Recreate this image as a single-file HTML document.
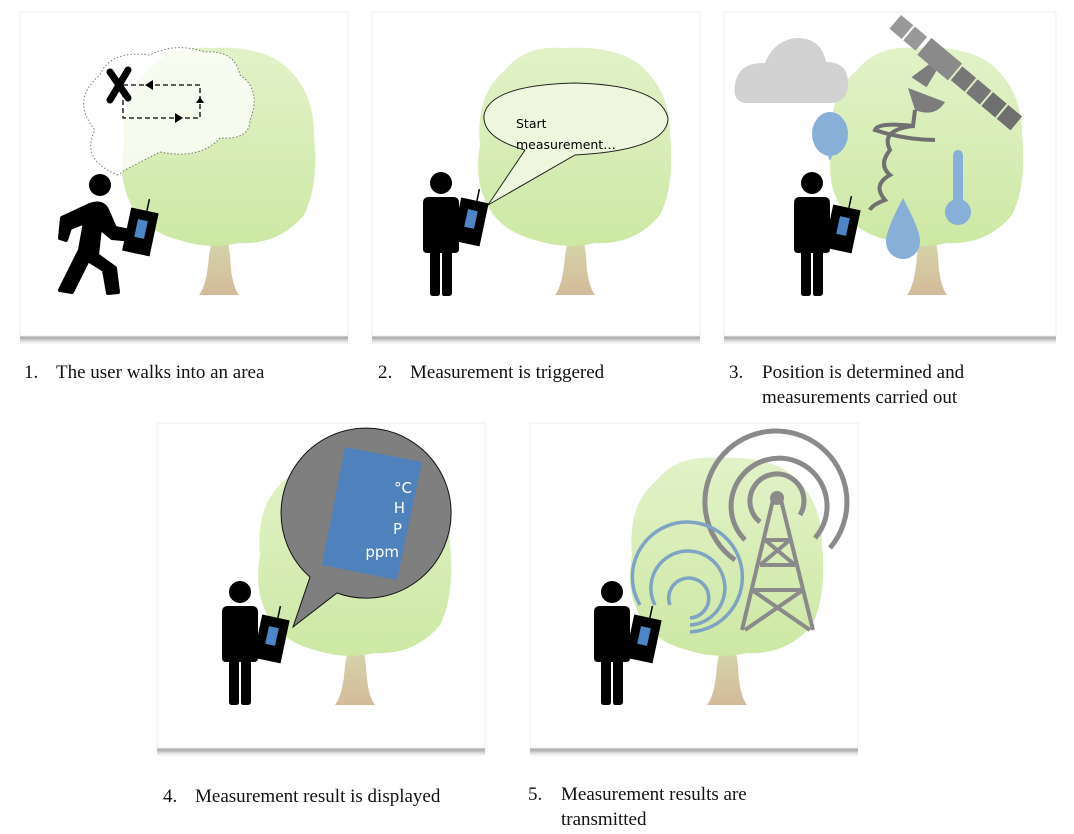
<!DOCTYPE html>
<html><head><meta charset="utf-8"><style>
html,body{margin:0;padding:0;background:#fff}
svg{display:block}
.cap{font-family:"Liberation Serif",serif;font-size:19px;fill:#111}
.sans{font-family:"DejaVu Sans",sans-serif}
</style></head><body>
<svg width="1074" height="834" viewBox="0 0 1074 834" xmlns="http://www.w3.org/2000/svg">
<defs>
<linearGradient id="sh" x1="0" y1="0" x2="0" y2="1"><stop offset="0" stop-color="#8a8a8a"/><stop offset="0.5" stop-color="#bbb"/><stop offset="1" stop-color="#fff" stop-opacity="0"/></linearGradient>
<linearGradient id="trk" x1="0" y1="0" x2="0" y2="1"><stop offset="0" stop-color="#d6dcb0"/><stop offset="1" stop-color="#d3bb9a"/></linearGradient>
<linearGradient id="can" x1="0" y1="0" x2="0" y2="1"><stop offset="0" stop-color="#e2f2c8"/><stop offset="1" stop-color="#cde8a4"/></linearGradient>
<g id="tree">
 <path d="M-4,-72 L-10,-40 Q-12,-10 -20,0 L20,0 Q12,-10 11,-40 L6,-72 Z" fill="url(#trk)"/>
 <path d="M-4,-62 L-32,-82 M4,-60 L28,-85" stroke="#d5d9ae" stroke-width="7"/>
 <g fill="url(#can)">
  <path d="M-95,-150 Q-100,-200 -70,-225 Q-50,-250 -10,-247 Q40,-250 65,-230 Q95,-205 95,-160 Q100,-110 85,-80 Q60,-50 20,-52 Q-10,-45 -40,-55 Q-80,-65 -92,-100 Q-100,-120 -95,-150 Z"/>
 </g>
</g>
<g id="man">
 <circle cx="0" cy="0" r="11"/>
 <path d="M-18,20 Q-18,14 -12,14 L12,14 Q18,14 18,20 L18,66 Q18,70 14,70 L11,70 L11,110 Q11,113 7,113 L3,113 Q1,113 1,110 L1,70 L-1,70 L-1,110 Q-1,113 -4,113 L-8,113 Q-11,113 -11,110 L-11,70 L-14,70 Q-18,70 -18,66 Z"/>
</g>
<g id="dev">
 <line x1="4" y1="0" x2="4" y2="-12" stroke="#000" stroke-width="1.5"/>
 <rect x="-12" y="0" width="28" height="44" fill="#000"/>
 <rect x="-3" y="10" width="10" height="18" fill="#4d86c6"/>
</g>
</defs>

<!-- panels -->
<g>
 <rect x="20" y="332" width="328" height="14" fill="url(#sh)"/>
 <rect x="20" y="12" width="328" height="324" fill="#fff" stroke="#eee"/>
 <rect x="372" y="332" width="328" height="14" fill="url(#sh)"/>
 <rect x="372" y="12" width="328" height="324" fill="#fff" stroke="#eee"/>
 <rect x="724" y="332" width="332" height="14" fill="url(#sh)"/>
 <rect x="724" y="12" width="332" height="324" fill="#fff" stroke="#eee"/>
 <rect x="157" y="744" width="328" height="14" fill="url(#sh)"/>
 <rect x="157" y="423" width="328" height="325" fill="#fff" stroke="#eee"/>
 <rect x="530" y="744" width="328" height="14" fill="url(#sh)"/>
 <rect x="530" y="423" width="328" height="325" fill="#fff" stroke="#eee"/>
</g>

<!-- panel 1 -->
<use href="#tree" x="219" y="295"/>
<path d="M118,175 Q80,160 95,130 Q70,100 100,75 Q110,50 150,55 Q175,42 205,52 Q235,50 240,75 Q262,90 250,120 Q250,140 220,138 Q200,160 160,152 L125,170 Z" fill="#fff" fill-opacity="0.75" stroke="#777" stroke-width="1" stroke-dasharray="1.5,2"/>
<g stroke="#000" stroke-width="1.3" stroke-dasharray="5,3" fill="none">
 <path d="M123,85 L200,85 L200,118 L123,118 L123,95"/>
</g>
<path d="M145,85 l8,-5 v10 z M183,118 l-8,-5 v10 z M200,97 l-4,6 h8 z" fill="#000"/>
<path d="M110,72 L128,98 M128,70 L110,100" stroke="#000" stroke-width="7" stroke-linecap="round"/>
<circle cx="100" cy="185" r="11"/>
<path d="M62,218 L90,205 Q104,200 108,212 L115,228 L135,232 L133,240 L112,238 L100,228 L97,255 L115,268 L118,292 L108,293 L104,270 L88,260 L72,292 L60,290 L80,250 L85,222 L70,228 L66,240 L60,238 Z" fill="#000" stroke="#000" stroke-width="4" stroke-linejoin="round"/>
<use href="#dev" x="143" y="210" transform="rotate(12 143 210)"/>

<!-- panel 2 -->
<use href="#tree" x="575" y="295"/>
<path d="M488,205 L525,150 Q482,138 484,115 Q490,85 575,83 Q660,85 668,118 Q668,150 575,155 Z" fill="#eef7de" stroke="#222" stroke-width="1"/>
<text class="sans" x="516" y="128" font-size="12.5">Start</text>
<text class="sans" x="516" y="149" font-size="12.5">measurement…</text>
<use href="#man" x="441" y="183"/>
<use href="#dev" x="473" y="200" transform="rotate(12 473 200)"/>

<!-- panel 3 -->
<use href="#tree" x="927" y="295"/>
<path d="M748,103 Q732,103 735,85 Q738,62 765,63 Q775,38 800,38 Q822,40 826,62 Q848,62 848,83 Q848,103 830,103 Z" fill="#d2d2d2"/>
<ellipse cx="830" cy="134" rx="18" ry="22" fill="#88afd7"/>
<path d="M828,156 h4 l-2,5 z" fill="#88afd7"/>
<path d="M903,198 Q885,232 886,242 A17,17 0 0,0 920,242 Q921,232 903,198 Z" fill="#88afd7"/>
<rect x="953" y="150" width="10" height="60" rx="5" fill="#88afd7"/>
<circle cx="958" cy="212" r="13" fill="#88afd7"/>
<g transform="translate(955,72) rotate(40)">
 <rect x="-78" y="-9" width="16" height="18" fill="#999"/><rect x="-60" y="-9" width="16" height="18" fill="#999"/>
 <rect x="-40" y="-11" width="40" height="22" fill="#8a8a8a"/>
 <rect x="2" y="-9" width="18" height="18" fill="#777"/><rect x="22" y="-9" width="18" height="18" fill="#777"/><rect x="42" y="-9" width="18" height="18" fill="#6f6f6f"/><rect x="62" y="-9" width="18" height="18" fill="#6f6f6f"/>
 <path d="M-25,11 L-15,11 L-12,30 L-30,32 Z" fill="#7d7d7d"/>
</g>
<path d="M908,88 L945,102 Q935,118 915,110 Z" fill="#7d7d7d"/>
<path d="M915,110 L913,126 Q878,122 875,130 Q905,140 935,140 M913,126 Q880,130 890,150 Q878,165 890,175 Q872,185 885,200 Q872,205 870,210" fill="none" stroke="#707070" stroke-width="4"/>
<use href="#man" x="812" y="183"/>
<use href="#dev" x="845" y="207" transform="rotate(12 845 207)"/>

<!-- panel 4 -->
<use href="#tree" x="355" y="705"/>
<path d="M293,627 L310,577 A85,85 0 1,1 337,593 Z" fill="#7f7f7f" stroke="#111" stroke-width="1"/>
<path d="M345,447 L422,462 L397,580 L322,565 Z" fill="#4f81bd"/>
<g fill="#fff" class="sans" font-size="15" text-anchor="end">
 <text x="412" y="493" class="sans">°C</text><text x="405" y="513" class="sans">H</text><text x="402" y="534" class="sans">P</text><text x="399" y="557" class="sans">ppm</text>
</g>
<use href="#man" x="240" y="592"/>
<use href="#dev" x="274" y="617" transform="rotate(12 274 617)"/>

<!-- panel 5 -->
<use href="#tree" x="727" y="705"/>
<g fill="none" stroke="#8a8a8a" stroke-width="5">
 <path d="M760,522 A27,27 0 1,1 800,515"/>
 <path d="M745,540 A48,48 0 1,1 815,538"/>
 <path d="M735,560 A71,71 0 1,1 830,548"/>
 <path d="M773,500 L742,630 M781,500 L813,630 M765,540 L790,540 M760,565 L795,565 M752,590 L803,590 M752,590 L810,630 M803,590 L745,630 M765,540 L795,565 M790,540 L760,565" stroke-width="4"/>
</g>
<circle cx="777" cy="498" r="7" fill="#8a8a8a"/>
<g fill="none" stroke="#7fa3c3" stroke-width="3.5">
 <path d="M640,605 A55,55 0 1,1 690,632"/>
 <path d="M655,605 A37,37 0 1,1 690,625"/>
 <path d="M670,605 A20,20 0 1,1 690,618"/>
</g>
<use href="#man" x="612" y="592"/>
<use href="#dev" x="646" y="617" transform="rotate(12 646 617)"/>

<!-- captions -->
<text class="cap" x="24" y="378">1.</text><text class="cap" x="56" y="378">The user walks into an area</text>
<text class="cap" x="378" y="378">2.</text><text class="cap" x="410" y="378">Measurement is triggered</text>
<text class="cap" x="729" y="378">3.</text><text class="cap" x="762" y="378">Position is determined and</text>
<text class="cap" x="762" y="403">measurements carried out</text>
<text class="cap" x="163" y="802">4.</text><text class="cap" x="195" y="802">Measurement result is displayed</text>
<text class="cap" x="528" y="800">5.</text><text class="cap" x="561" y="800">Measurement results are</text>
<text class="cap" x="561" y="825">transmitted</text>
</svg>
</body></html>
